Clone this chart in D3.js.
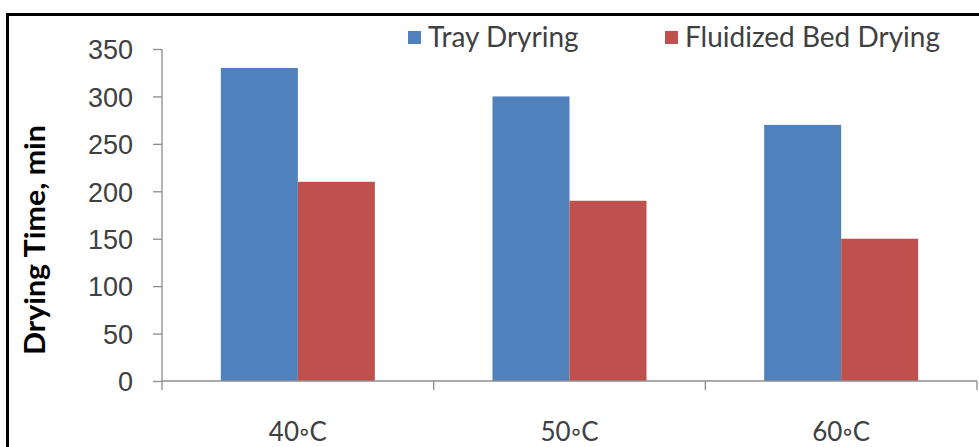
<!DOCTYPE html>
<html>
<head>
<meta charset="utf-8">
<script src="https://cdn.jsdelivr.net/npm/d3@7"></script>
<style>
  body { margin: 0; background: #fff; }
  svg { display: block; font-family: Lato, "Open Sans", sans-serif; }
</style>
</head>
<body>
<svg id="chart"></svg>
<script>
var categories = ["40\u25E6C", "50\u25E6C", "60\u25E6C"];
var seriesNames = ["Tray Dryring", "Fluidized Bed Drying"];
var trayValues = [330, 300, 270];
var fluidValues = [210, 190, 150];
var yTicks = [0, 50, 100, 150, 200, 250, 300, 350];
var colors = ["#4f81bd", "#c0504d"];

var W = 979, H = 447;
var margin = { top: 49, right: 2, bottom: 66, left: 162 },
  width = W - margin.left - margin.right,
  height = H - margin.top - margin.bottom;

var svg = d3.select("svg#chart").attr("width", W).attr("height", H);

// outer frame (only top and left visible in the picture)
svg.append("path")
  .attr("d", "M7.5," + H + "V14.5H" + W)
  .attr("fill", "none").attr("stroke", "#000").attr("stroke-width", 3);

var g = svg.append("g")
  .attr("transform", "translate(" + margin.left + "," + margin.top + ")");

var data = categories.map(function (c, i) {
  return { cat: c, values: [trayValues[i], fluidValues[i]] };
});

// scales
var x0 = d3.scaleBand().domain(categories).range([0, width]).padding(0);
var x1 = d3.scaleBand().domain(seriesNames).range([0, x0.bandwidth()])
  .paddingInner(0).paddingOuter(0.764);
var y = d3.scaleLinear().domain([0, 350]).range([height, 0]);

// bars
var groups = g.selectAll(".grp").data(data).enter().append("g")
  .attr("class", "grp")
  .attr("transform", function (d) { return "translate(" + x0(d.cat) + ",0)"; });

groups.selectAll("rect")
  .data(function (d) { return d.values.map(function (v, i) { return { s: seriesNames[i], v: v, i: i }; }); })
  .enter().append("rect")
  .attr("x", function (d) { return x1(d.s); })
  .attr("width", x1.bandwidth())
  .attr("y", function (d) { return y(d.v); })
  .attr("height", function (d) { return height - y(d.v); })
  .attr("fill", function (d) { return colors[d.i]; });

// y axis
var yAxis = g.append("g")
  .call(d3.axisLeft(y).tickValues(yTicks).tickSize(9).tickPadding(20));
yAxis.select(".domain").attr("stroke", "#8c8c8c").attr("stroke-width", 1.3)
  .attr("d", "M0," + y(350) + "V" + height);
yAxis.selectAll(".tick line").attr("stroke", "#8c8c8c").attr("stroke-width", 1.3);
yAxis.selectAll(".tick text")
  .attr("fill", "#404040").style("font-size", "27px").attr("dy", "0.36em");

// x axis, ticks at the band boundaries
var xAxis = g.append("g").attr("transform", "translate(0," + height + ")");
xAxis.append("line").attr("x1", 0).attr("x2", width)
  .attr("stroke", "#8c8c8c").attr("stroke-width", 1.3);
xAxis.selectAll(".xt").data(categories.concat(["end"])).enter().append("line")
  .attr("x1", function (d, i) { return i < categories.length ? x0(d) : width; })
  .attr("x2", function (d, i) { return i < categories.length ? x0(d) : width; })
  .attr("y1", 0).attr("y2", 9)
  .attr("stroke", "#8c8c8c").attr("stroke-width", 1.3);
xAxis.selectAll(".xl").data(categories).enter().append("text")
  .attr("x", function (d) { return x0(d) + x0.bandwidth() / 2; })
  .attr("y", 60)
  .attr("text-anchor", "middle")
  .attr("fill", "#404040").style("font-size", "26px")
  .text(function (d) { return d; });

// y axis title
svg.append("text")
  .attr("transform", "translate(45," + (margin.top + height / 2 + 25) + ") rotate(-90)")
  .attr("text-anchor", "middle")
  .attr("textLength", 230).attr("lengthAdjust", "spacingAndGlyphs")
  .attr("fill", "#000").style("font-size", "28px").style("font-weight", "bold")
  .text("Drying Time, min");

// legend
var legendX = [408, 665];
var legend = svg.selectAll(".leg").data(seriesNames).enter().append("g")
  .attr("transform", function (d, i) { return "translate(" + legendX[i] + ",31)"; });
legend.append("rect").attr("width", 13).attr("height", 13)
  .attr("fill", function (d, i) { return colors[i]; });
legend.append("text").attr("x", 20).attr("y", 16)
  .attr("fill", "#404040").style("font-size", "28px")
  .text(function (d) { return d; });
</script>
</body>
</html>
